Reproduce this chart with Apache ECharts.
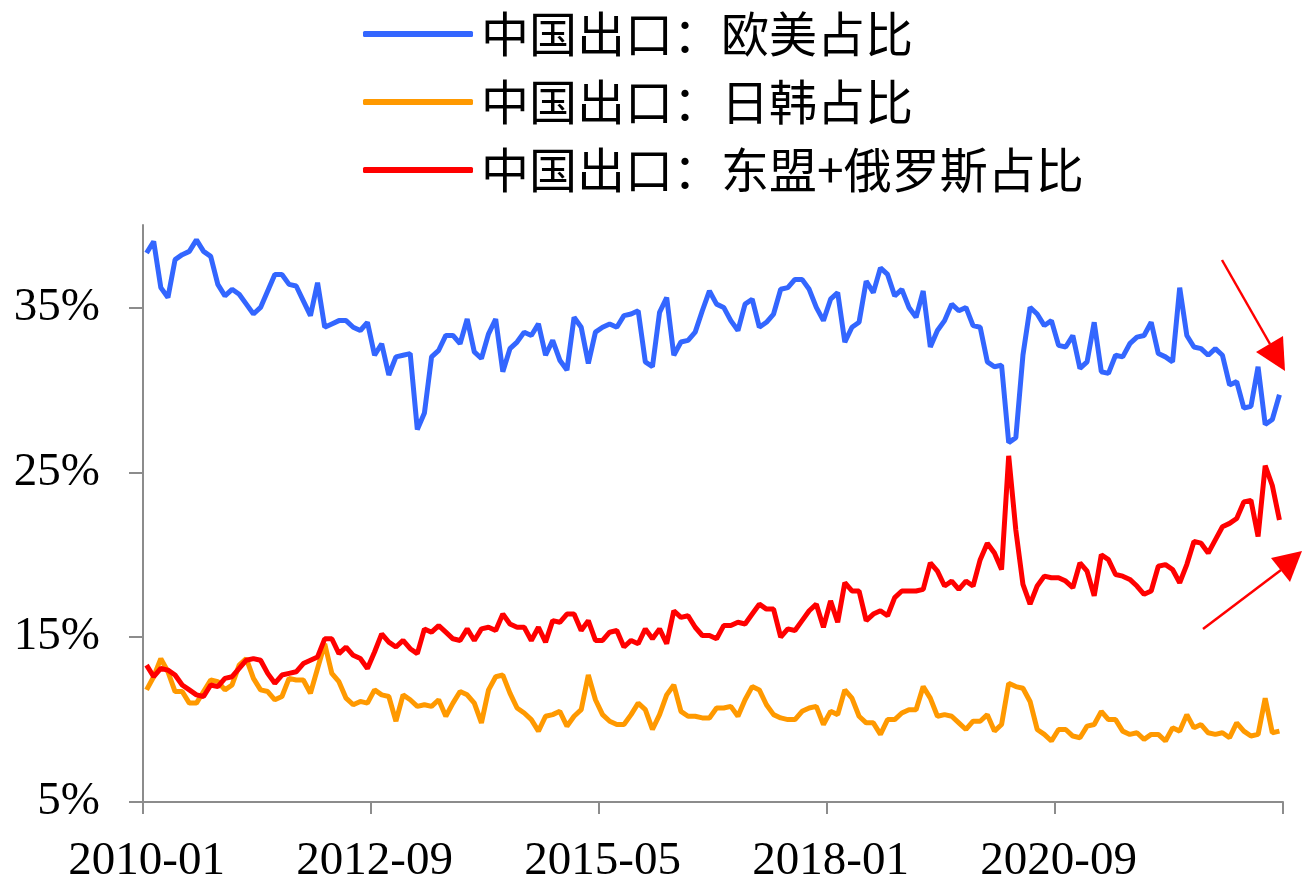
<!DOCTYPE html>
<html>
<head>
<meta charset="utf-8">
<script src="https://cdn.jsdelivr.net/npm/echarts@6/dist/echarts.min.js"></script>
<style>
html,body{margin:0;padding:0;background:#fff;}
#chart{width:1302px;height:879px;}
</style>
</head>
<body>
<div id="chart"></div>
<script>
// Monthly categories 2010-01 .. 2023-04 (160 months)
const startYear = 2010, startMonth = 1, monthCount = 160;
const categories = [];
for (let i = 0; i < monthCount; i++) {
  const m = startMonth - 1 + i;
  const y = startYear + Math.floor(m / 12);
  const mm = (m % 12) + 1;
  categories.push(y + '-' + (mm < 10 ? '0' + mm : mm));
}

const seriesNames = ['中国出口：欧美占比', '中国出口：日韩占比', '中国出口：东盟+俄罗斯占比'];

const euUs = [
  38.3,39.0,36.2,35.6,37.9,38.2,38.4,39.1,38.4,38.1,
  36.4,35.7,36.1,35.8,35.2,34.6,35.0,36.0,37.0,37.0,
  36.4,36.3,35.4,34.5,36.5,33.8,34.0,34.2,34.2,33.8,
  33.6,34.1,32.1,32.8,30.9,32.0,32.1,32.2,27.6,28.6,
  32.0,32.4,33.3,33.3,32.8,34.3,32.3,31.9,33.4,34.3,
  31.1,32.5,32.9,33.5,33.3,34.0,32.1,33.0,31.8,31.2,
  34.4,33.8,31.6,33.5,33.8,34.0,33.8,34.5,34.6,34.8,
  31.7,31.4,34.7,35.6,32.1,32.9,33.0,33.5,34.8,36.0,
  35.2,35.0,34.2,33.6,35.2,35.5,33.8,34.1,34.6,36.1,
  36.2,36.7,36.7,36.1,35.0,34.2,35.5,35.9,32.9,33.8,
  34.1,36.6,35.9,37.4,37.0,35.7,36.1,35.0,34.4,36.0,
  32.6,33.6,34.2,35.2,34.8,35.0,33.9,33.8,31.7,31.4,
  31.5,26.8,27.1,32.1,35.0,34.6,33.9,34.2,32.7,32.6,
  33.3,31.3,31.7,34.1,31.1,31.0,32.1,32.0,32.8,33.2,
  33.3,34.1,32.2,32.0,31.7,36.2,33.3,32.6,32.5,32.1,
  32.5,32.1,30.3,30.5,28.9,29.0,31.4,27.9,28.2,29.7
];

const japanKorea = [
  11.8,12.6,13.7,12.9,11.7,11.7,11.0,11.0,11.7,12.4,
  12.3,11.8,12.1,13.3,13.7,12.5,11.8,11.7,11.2,11.4,
  12.5,12.4,12.4,11.6,13.1,14.6,12.8,12.3,11.3,10.9,
  11.1,11.0,11.8,11.5,11.4,9.9,11.5,11.2,10.8,10.9,
  10.8,11.2,10.2,11.0,11.7,11.5,11.0,9.8,11.8,12.6,
  12.7,11.6,10.7,10.4,10.0,9.3,10.2,10.3,10.5,9.6,
  10.2,10.6,12.7,11.2,10.3,9.9,9.7,9.7,10.3,11.0,
  10.6,9.4,10.3,11.5,12.1,10.5,10.2,10.2,10.1,10.1,
  10.7,10.7,10.8,10.2,11.2,12.0,11.8,10.9,10.3,10.1,
  10.0,10.0,10.5,10.7,10.8,9.7,10.5,10.3,11.8,11.3,
  10.2,9.8,9.8,9.1,10.0,10.0,10.4,10.6,10.6,12.0,
  11.3,10.2,10.3,10.2,9.8,9.4,9.9,9.9,10.3,9.3,
  9.7,12.2,12.0,11.9,11.1,9.4,9.1,8.7,9.4,9.4,
  9.0,8.9,9.6,9.7,10.5,10.0,10.0,9.3,9.1,9.2,
  8.8,9.1,9.1,8.7,9.5,9.3,10.3,9.5,9.7,9.2,
  9.1,9.2,8.9,9.8,9.3,9.0,9.1,11.3,9.2,9.3
];

const aseanRussia = [
  13.3,12.6,13.1,13.0,12.7,12.1,11.8,11.5,11.4,12.1,
  12.0,12.5,12.6,13.1,13.6,13.7,13.6,12.8,12.2,12.7,
  12.8,12.9,13.4,13.6,13.8,14.9,14.9,14.0,14.4,13.9,
  13.7,13.1,14.1,15.2,14.7,14.4,14.8,14.3,14.0,15.5,
  15.3,15.7,15.3,14.9,14.8,15.5,14.8,15.5,15.6,15.4,
  16.4,15.8,15.6,15.6,14.8,15.6,14.7,16.0,15.9,16.4,
  16.4,15.4,16.0,14.8,14.8,15.3,15.4,14.4,14.8,14.6,
  15.5,14.9,15.5,14.6,16.6,16.2,16.3,15.6,15.1,15.1,
  14.9,15.7,15.7,15.9,15.8,16.4,17.0,16.7,16.7,15.0,
  15.5,15.4,16.0,16.6,17.0,15.6,17.2,15.9,18.3,17.8,
  17.8,16.0,16.4,16.6,16.3,17.4,17.8,17.8,17.8,17.9,
  19.5,19.0,18.1,18.4,17.9,18.4,18.1,19.7,20.7,20.1,
  19.1,26.0,21.5,18.2,17.0,18.1,18.7,18.6,18.6,18.4,
  18.0,19.5,19.0,17.5,20.0,19.7,18.8,18.7,18.5,18.1,
  17.6,17.8,19.3,19.4,19.1,18.3,19.4,20.8,20.7,20.1,
  20.9,21.7,21.9,22.2,23.2,23.3,21.1,25.4,24.2,22.1
];

const yTickValues = [5, 15, 25, 35];
const colors = ['#3366FF', '#FF9900', '#FF0000'];

const chart = echarts.init(document.getElementById('chart'), null, {renderer: 'canvas'});
const axisGray = '#8c8c8c';
const serif = '"Liberation Serif", "Times New Roman", serif';

const option = {
  backgroundColor: '#ffffff',
  animation: false,
  color: colors,
  legend: {
    orient: 'vertical',
    left: 358,
    top: 4,
    itemWidth: 110,
    itemHeight: 6,
    itemGap: 18,
    icon: 'roundRect',
    selectedMode: false,
    align: 'left',
    textStyle: {
      fontFamily: '"Noto Sans CJK SC", sans-serif',
      fontSize: 48,
      lineHeight: 50,
      color: '#000',
      padding: [0, 0, 0, 3]
    },
    data: seriesNames
  },
  grid: {left: 143, right: 19, top: 225, bottom: 77, containLabel: false, outerBoundsMode: 'none'},
  xAxis: {
    type: 'category',
    data: categories,
    boundaryGap: true,
    axisLine: {show: true, lineStyle: {color: axisGray, width: 2}},
    axisTick: {show: true, interval: 31, length: 12, inside: false, lineStyle: {color: axisGray, width: 2}},
    axisLabel: {interval: 31, margin: 36, fontFamily: serif, fontSize: 47, color: '#000'},
    splitLine: {show: false}
  },
  yAxis: {
    type: 'value',
    min: 5,
    max: 40,
    axisLine: {show: true, lineStyle: {color: axisGray, width: 2}},
    axisTick: {show: true, length: 14, customValues: yTickValues, lineStyle: {color: axisGray, width: 2}},
    axisLabel: {customValues: yTickValues, margin: 43, fontFamily: serif, fontSize: 47, color: '#000',
      formatter: function (v) { return v + '%'; }},
    splitLine: {show: false}
  },
  series: [
    {name: seriesNames[0], type: 'line', data: euUs, showSymbol: false, symbol: 'none',
      lineStyle: {width: 5, color: colors[0]}, itemStyle: {color: colors[0]}},
    {name: seriesNames[1], type: 'line', data: japanKorea, showSymbol: false, symbol: 'none',
      lineStyle: {width: 5, color: colors[1]}, itemStyle: {color: colors[1]}},
    {name: seriesNames[2], type: 'line', data: aseanRussia, showSymbol: false, symbol: 'none',
      lineStyle: {width: 5, color: colors[2]}, itemStyle: {color: colors[2]}}
  ],
  graphic: [
    {type: 'line', shape: {x1: 1222, y1: 260, x2: 1270, y2: 344}, style: {stroke: '#FF0000', lineWidth: 2.5}},
    {type: 'polygon', shape: {points: [[1285, 371], [1256, 352], [1283, 336]]}, style: {fill: '#FF0000'}},
    {type: 'line', shape: {x1: 1203, y1: 629, x2: 1281, y2: 570}, style: {stroke: '#FF0000', lineWidth: 2.5}},
    {type: 'polygon', shape: {points: [[1302, 551], [1271, 558], [1290, 582]]}, style: {fill: '#FF0000'}}
  ]
};
chart.setOption(option);
</script>
</body>
</html>
